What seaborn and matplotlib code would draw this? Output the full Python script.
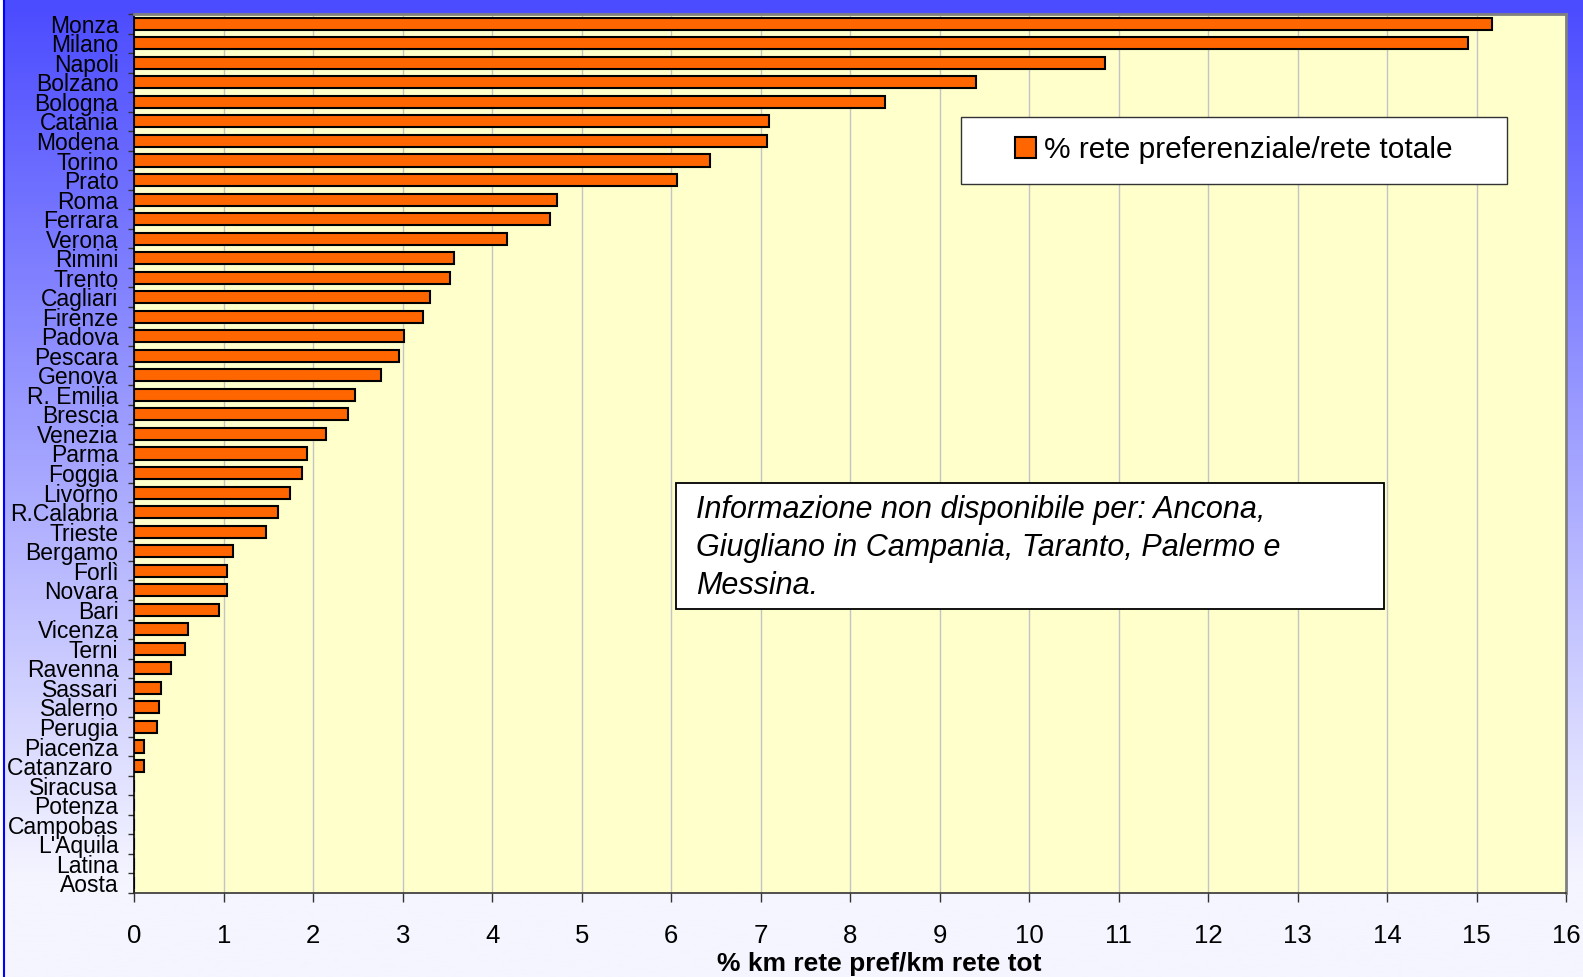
import numpy as np
import matplotlib.pyplot as plt
from matplotlib.patches import Rectangle
import seaborn as sns

# data
cities = ["Monza", "Milano", "Napoli", "Bolzano", "Bologna", "Catania", "Modena", "Torino",
          "Prato", "Roma", "Ferrara", "Verona", "Rimini", "Trento", "Cagliari", "Firenze",
          "Padova", "Pescara", "Genova", "R. Emilia", "Brescia", "Venezia", "Parma", "Foggia",
          "Livorno", "R.Calabria", "Trieste", "Bergamo", "Forlì", "Novara", "Bari", "Vicenza",
          "Terni", "Ravenna", "Sassari", "Salerno", "Perugia", "Piacenza", "Catanzaro ",
          "Siracusa", "Potenza", "Campobas", "L'Aquila", "Latina", "Aosta"]
perc_pref = [15.17, 14.91, 10.85, 9.41, 8.39, 7.09, 7.07, 6.43,
             6.06, 4.72, 4.64, 4.16, 3.57, 3.53, 3.30, 3.23,
             3.01, 2.96, 2.755, 2.465, 2.39, 2.14, 1.93, 1.875,
             1.735, 1.60, 1.47, 1.10, 1.04, 1.03, 0.95, 0.60,
             0.56, 0.41, 0.30, 0.27, 0.25, 0.11, 0.11,
             0, 0, 0, 0, 0, 0]
x_ticks = list(range(0, 17))
legend_label = "% rete preferenziale/rete totale"
x_label = "% km rete pref/km rete tot"
note = ("Informazione non disponibile per: Ancona,\n"
        "Giugliano in Campania, Taranto, Palermo e\n"
        "Messina.")

sns.set_style("ticks")
plt.rcParams['font.family'] = ['Liberation Sans', 'DejaVu Sans']
plt.rcParams['text.color'] = 'black'
plt.rcParams['axes.labelcolor'] = 'black'
plt.rcParams['xtick.color'] = 'black'
plt.rcParams['ytick.color'] = 'black'

W, H = 1583, 977
fig = plt.figure(figsize=(W / 100, H / 100), dpi=100)

# blue -> white gradient background
bg = fig.add_axes([0, 0, 1, 1], zorder=-1)
t = np.clip(np.linspace(0, 1, 400) / 0.9, 0, 1)
top = np.array([75, 75, 255]) / 255
bot = np.array([245, 245, 255]) / 255
grad = top[None, :] * (1 - t[:, None]) + bot[None, :] * t[:, None]
bg.imshow(grad[:, None, :], aspect='auto', extent=[0, 1, 0, 1], origin='upper')
bg.axvspan(0, 2 / W, color='white')
bg.axvline(3.5 / W, color='#0000ff', lw=1.5)
bg.set_xlim(0, 1)
bg.set_ylim(0, 1)
bg.axis('off')

x0, x1 = 134.4 / W, 1566 / W
y0, y1 = 1 - 893 / H, 1 - 14 / H
ax = fig.add_axes([x0, y0, x1 - x0, y1 - y0])
ax.set_facecolor('#FFFFCC')

sns.barplot(x=perc_pref, y=cities, orient='h', color='#FF6600', saturation=1,
            edgecolor='black', linewidth=1.5, width=0.62, label=legend_label, ax=ax, zorder=3)

ax.set_xlim(0, 16)
ax.set_xticks(x_ticks)
ax.xaxis.grid(True, color='#c4c4c4', lw=1)
ax.set_axisbelow(True)

n = len(cities)
ax.set_ylim(n - 0.5, -0.5)
ax.set_yticks(np.arange(-0.5, n, 1), minor=True)
ax.tick_params(axis='y', which='major', length=0, pad=11.5, labelsize=16.5)
ax.tick_params(axis='y', which='minor', length=4.5, width=1, direction='out', color='#333333')
ax.tick_params(axis='x', length=6.5, width=1, direction='out', color='#333333',
               pad=15.5, labelsize=18.5)
ax.set_ylabel("")
ax.set_xlabel(x_label, fontsize=19, fontweight='bold')
ax.xaxis.set_label_coords(0.520, -0.0805)
ax.xaxis.label.set_va('center')

for side in ['top', 'right']:
    ax.spines[side].set_color('#808080')
    ax.spines[side].set_linewidth(2)
ax.spines['left'].set_color('black')
ax.spines['bottom'].set_color('#333333')
ax.spines['left'].set_linewidth(1.2)
ax.spines['bottom'].set_linewidth(1.2)

# legend with Excel-like frame
ax.add_patch(Rectangle((0.5775, 0.807), 0.9588 - 0.5775, 0.883 - 0.807, transform=ax.transAxes,
                       facecolor='white', edgecolor='#333333', lw=1, zorder=5))
leg = ax.legend(loc='center', bbox_to_anchor=(0.768, 0.845), frameon=False, fontsize=21.5,
                handlelength=0.7, handleheight=0.7, handletextpad=0.3)
leg.set_zorder(6)

# note box
ax.add_patch(Rectangle((0.3785, 0.3231), 0.8727 - 0.3785, 0.4664 - 0.3231, transform=ax.transAxes,
                       facecolor='white', edgecolor='black', lw=1.3, zorder=5))
ax.text(0.3921, 0.3925, note, transform=ax.transAxes, ha='left', va='center',
        fontsize=22, fontstyle='italic', linespacing=1.36, zorder=6)

fig.savefig("out.png", dpi=100)
